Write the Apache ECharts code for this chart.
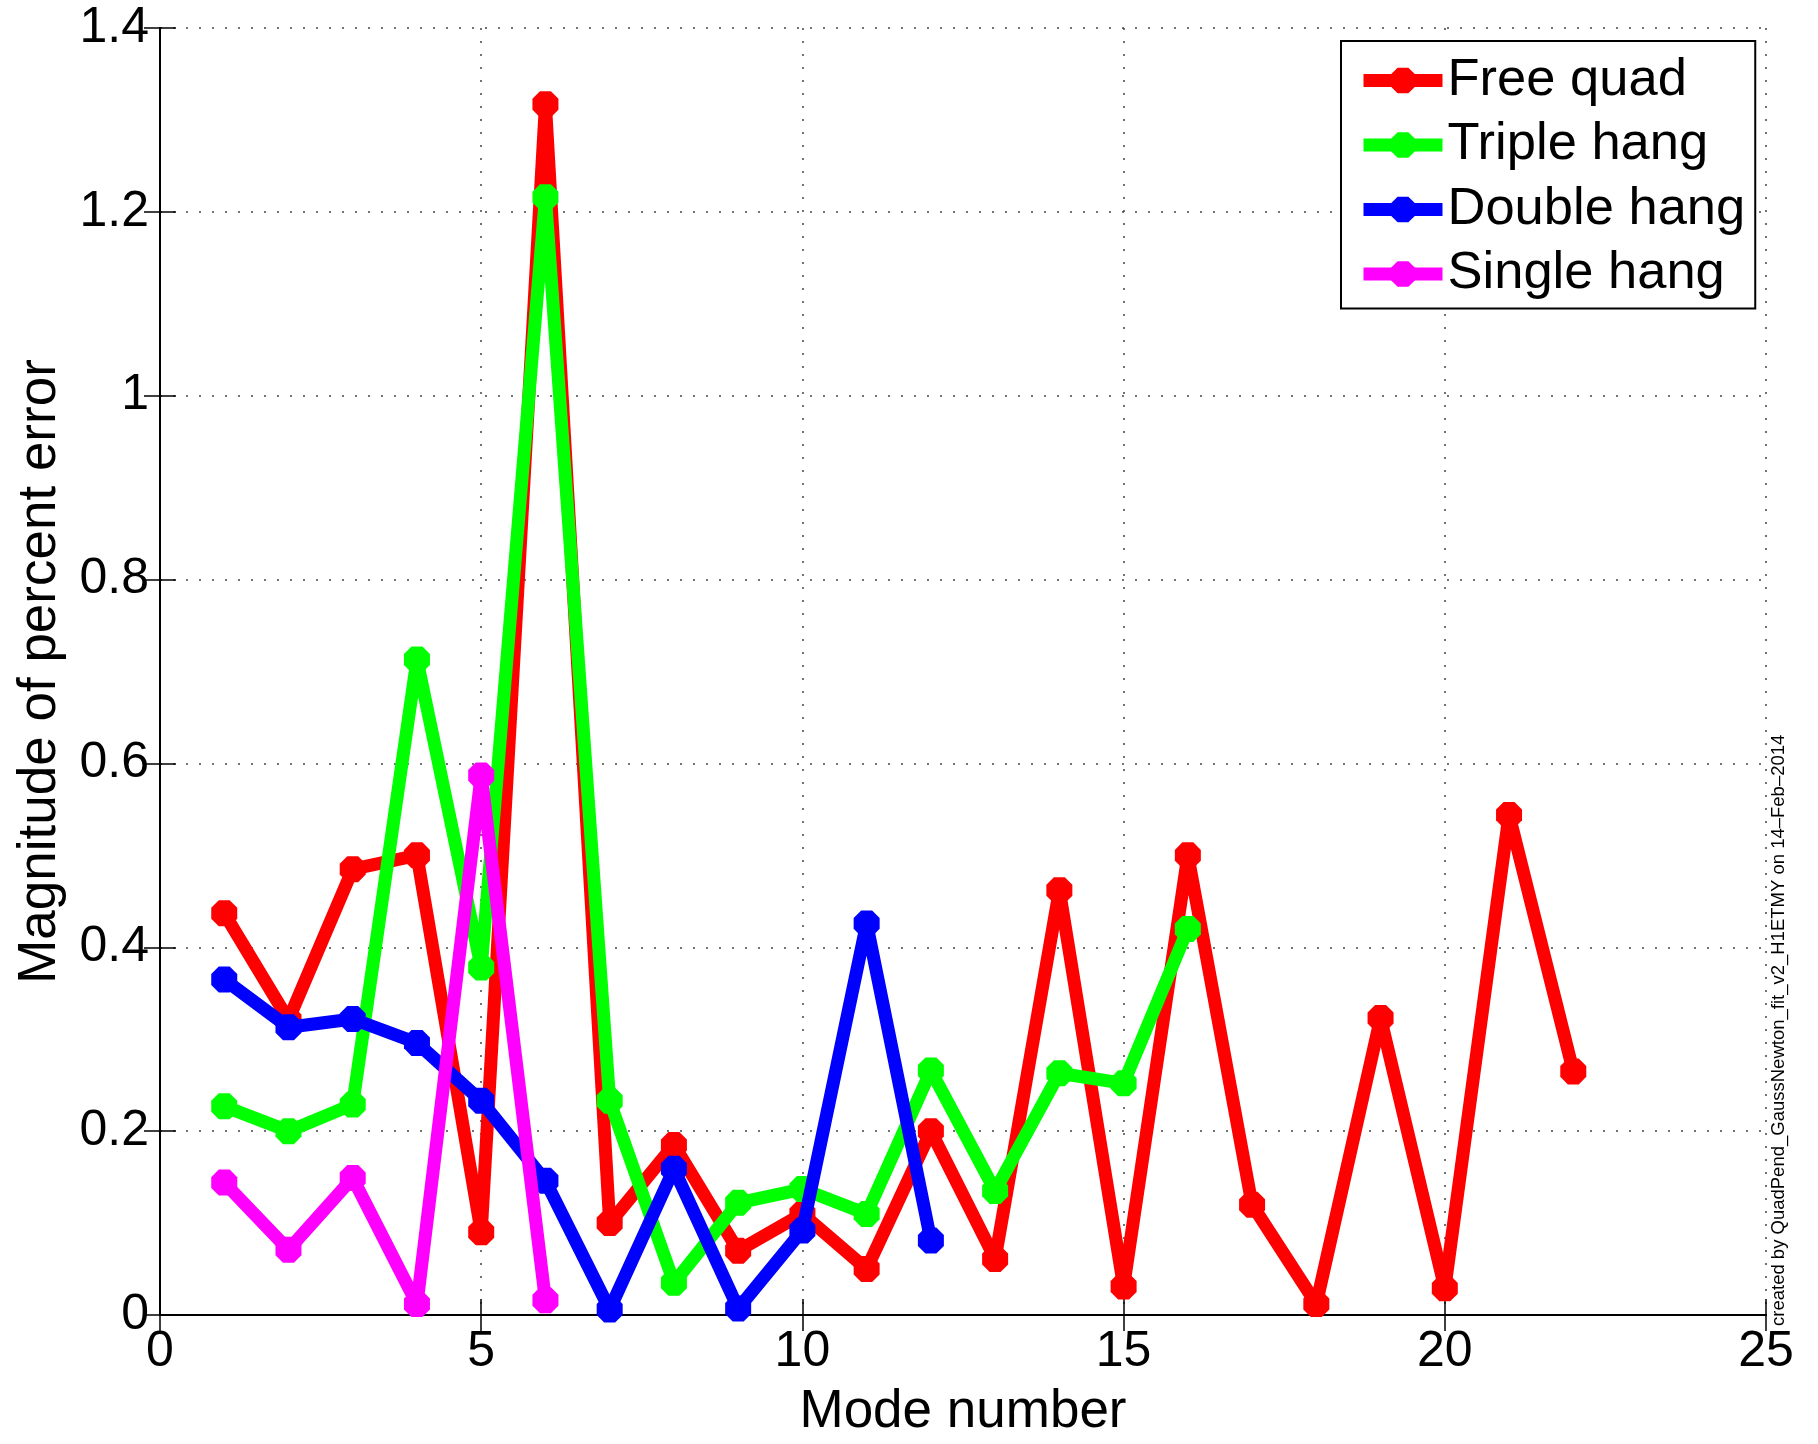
<!DOCTYPE html>
<html>
<head>
<meta charset="utf-8">
<script src="https://cdn.jsdelivr.net/npm/echarts@6/dist/echarts.min.js"></script>
<style>
html,body{margin:0;padding:0;background:#fff;}
#chart{width:1818px;height:1444px;}
</style>
</head>
<body>
<div id="chart"></div>
<script>
var modes = [1,2,3,4,5,6,7,8,9,10,11,12,13,14,15,16,17,18,19,20,21,22];
var freeQuad = [0.437,0.321,0.485,0.500,0.090,1.317,0.100,0.185,0.070,0.110,0.050,0.200,0.061,0.462,0.031,0.500,0.120,0.012,0.323,0.029,0.544,0.265];
var tripleHang = [0.227,0.200,0.229,0.713,0.378,1.216,0.233,0.035,0.122,0.137,0.110,0.266,0.135,0.263,0.252,0.420];
var doubleHang = [0.365,0.313,0.322,0.296,0.233,0.146,0.006,0.159,0.007,0.092,0.426,0.081];
var singleHang = [0.144,0.071,0.149,0.012,0.587,0.016];
var seriesNames = ['Free quad','Triple hang','Double hang','Single hang'];
var seriesColors = ['#ff0000','#00ff00','#0000ff','#ff00ff'];
var xTickLabels = ['0','5','10','15','20','25'];
var yTickLabels = ['0','0.2','0.4','0.6','0.8','1','1.2','1.4'];
var xName = 'Mode number';
var yName = 'Magnitude of percent error';
var creditText = 'created by QuadPend_GaussNewton_fit_v2_H1ETMY on 14\u2013Feb\u20132014';

var FONT = '"Liberation Sans", Arial, Helvetica, sans-serif';
var octagon = 'path://M29,0 L71,0 L100,29 L100,71 L71,100 L29,100 L0,71 L0,29 Z';

function pairs(vals){ return vals.map(function(v,i){ return [modes[i], v]; }); }
var allData = [freeQuad, tripleHang, doubleHang, singleHang];

var chart = echarts.init(document.getElementById('chart'), null, {renderer:'canvas'});

var gridSplit = {show:true, lineStyle:{color:'#444', width:1.5, type:[2,11]}};
var axisLineBlack = {show:true, lineStyle:{color:'#000', width:2}};
var ticksIn = {show:true, inside:true, length:16, lineStyle:{color:'#000', width:1.5}};

var option = {
  animation:false,
  backgroundColor:'#fff',
  textStyle:{fontFamily:FONT},
  grid:{left:160, right:52, top:28, bottom:116, containLabel:false},
  legend:{
    orient:'vertical', left:1341, top:41,
    padding:[13,10,8,16],
    backgroundColor:'#fff', borderColor:'#000', borderWidth:2, borderRadius:0,
    itemWidth:79, itemHeight:32, itemGap:11.5,
    lineStyle:{width:13},
    textStyle:{fontFamily:FONT, fontSize:52.5, lineHeight:52, color:'#000'},
    data:seriesNames
  },
  xAxis:[{
    type:'value', min:0, max:25, interval:5, position:'bottom',
    name:xName, nameLocation:'middle', nameGap:71,
    nameTextStyle:{fontFamily:FONT, fontSize:53, color:'#000'},
    axisLine:axisLineBlack, axisTick:ticksIn, splitLine:gridSplit,
    axisLabel:{fontFamily:FONT, fontSize:50, color:'#000', margin:12,
      formatter:function(v,i){ return xTickLabels[Math.round(v/5)]; }}
  },{
    type:'value', min:0, max:25, interval:5, position:'top',
    axisLine:axisLineBlack, axisTick:ticksIn, splitLine:{show:false}, axisLabel:{show:false}
  }],
  yAxis:[{
    type:'value', min:0, max:1.4, interval:0.2, position:'left',
    name:yName, nameLocation:'middle', nameGap:93,
    nameTextStyle:{fontFamily:FONT, fontSize:53, color:'#000'},
    axisLine:axisLineBlack, axisTick:ticksIn, splitLine:gridSplit,
    axisLabel:{fontFamily:FONT, fontSize:50, color:'#000', margin:11, padding:[7,0,0,0],
      formatter:function(v){ return yTickLabels[Math.round(v/0.2)]; }}
  },{
    type:'value', min:0, max:1.4, interval:0.2, position:'right',
    axisLine:axisLineBlack, axisTick:ticksIn, splitLine:{show:false}, axisLabel:{show:false}
  }],
  graphic:[{
    type:'text', x:1779, y:1326, rotation:Math.PI/2,
    style:{text:creditText, font:'18.5px ' + FONT, fill:'#000', textAlign:'left', textVerticalAlign:'middle'}
  }],
  series: seriesNames.map(function(name, k){
    return {
      name:name, type:'line', xAxisIndex:0, yAxisIndex:0,
      data:pairs(allData[k]),
      symbol:octagon, symbolSize:26, showSymbol:true,
      lineStyle:{color:seriesColors[k], width:13},
      itemStyle:{color:seriesColors[k], borderWidth:0},
      emphasis:{disabled:true},
      z:2+k
    };
  })
};
chart.setOption(option);
</script>
</body>
</html>
